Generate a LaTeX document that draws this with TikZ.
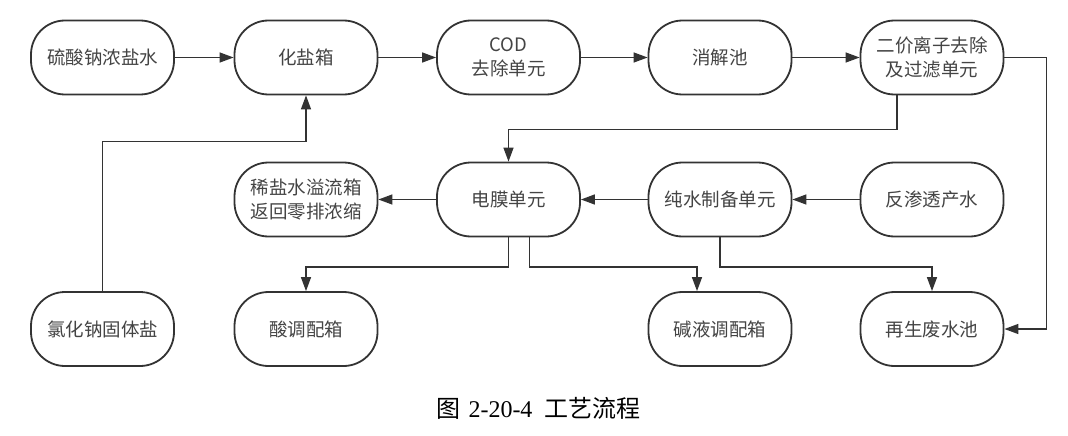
\documentclass[tikz,border=0pt]{standalone}
\usepackage{fontspec}
\setmainfont{Liberation Serif}
\newfontfamily\cjk{Noto Sans CJK SC}
\usetikzlibrary{arrows.meta}
\definecolor{linec}{HTML}{333333}
\definecolor{textc}{HTML}{444444}
\tikzset{
  box/.style={draw=linec, line width=1.8pt, rounded corners=34pt, minimum width=143pt,
    minimum height=74pt, align=center, text=textc, inner sep=0pt,
    font=\cjk\fontsize{18.5}{24}\selectfont},
  arr/.style={draw=linec, line width=1.4pt, -{Triangle[length=14pt,width=10pt]}},
}
\begin{document}
\begin{tikzpicture}[x=1pt,y=-1pt]
\fill[white] (0,0) rectangle (1068,436);
\useasboundingbox (0,0) rectangle (1068,436);
% row 1
\node[box] (n1) at (102.5,57.5) {硫酸钠浓盐水};
\node[box] (n2) at (306,57.5) {化盐箱};
\node[box] (n3) at (508.5,57.5) {COD\\去除单元};
\node[box] (n4) at (720,57.5) {消解池};
\node[box] (n5) at (932,57.5) {二价离子去除\\及过滤单元};
% row 2
\node[box] (e1) at (306,199.5) {稀盐水溢流箱\\返回零排浓缩};
\node[box] (e2) at (508.5,199.5) {电膜单元};
\node[box] (e3) at (720,199.5) {纯水制备单元};
\node[box] (e4) at (932,199.5) {反渗透产水};
% row 3
\node[box] (m1) at (102.5,329) {氯化钠固体盐};
\node[box] (r2) at (306,329) {酸调配箱};
\node[box] (r3) at (720,329) {碱液调配箱};
\node[box] (r4) at (932,329) {再生废水池};
% connectors
\draw[arr] (n1) -- (n2);
\draw[arr] (n2) -- (n3);
\draw[arr] (n3) -- (n4);
\draw[arr] (n4) -- (n5);
\draw[arr] (m1.north) |- ([yshift=-46pt]n2.south) -- (n2.south);
\draw[arr] ([xshift=-35pt]n5.south) |- ([yshift=32pt]e2.north) -- (e2.north);
\draw[arr] (n5.east) -| ([xshift=42pt]r4.east) -- (r4.east);
\draw[arr] (e4) -- (e3);
\draw[arr] (e3) -- (e2);
\draw[arr] (e2) -- (e1);
\draw[arr] (e2.south) |- ([yshift=24pt]r2.north) -- (r2.north);
\draw[arr] ([xshift=21pt]e2.south) |- ([xshift=-23pt,yshift=24pt]r3.north) -- ([xshift=-23pt]r3.north);
\draw[arr] (e3.south) |- ([yshift=24pt]r4.north) -- (r4.north);
% caption
\node[font=\fontsize{24}{28}\selectfont, inner sep=0pt] (cap) at (538.5,408) {{\cjk 图}\hspace{8pt}2-20-4\hspace{12pt}{\cjk 工艺流程}};
\end{tikzpicture}
\end{document}
